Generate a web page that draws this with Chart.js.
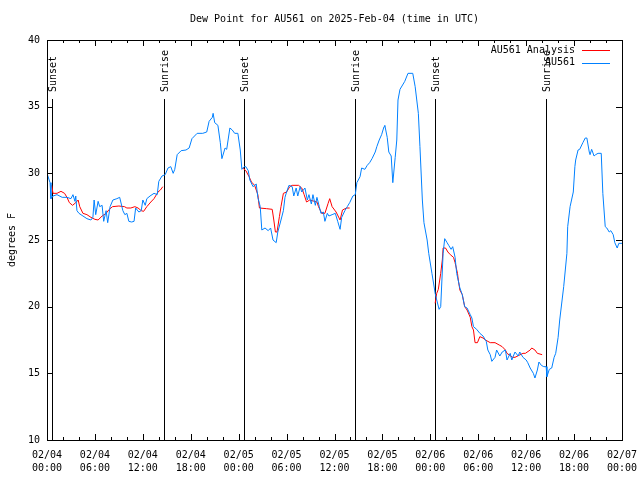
<!DOCTYPE html>
<html>
<head>
<meta charset="utf-8">
<script src="https://cdn.jsdelivr.net/npm/chart.js@4.4.1/dist/chart.umd.min.js"></script>
<style>
  html, body { margin: 0; padding: 0; background: #fff; }
  #dewChart { display: block; }
</style>
</head>
<body>
<canvas id="dewChart" width="640" height="480"></canvas>
<script>
// hours since 2025-02-04 00:00 UTC
const tickDates = ['02/04', '02/04', '02/04', '02/04', '02/05', '02/05', '02/05', '02/05', '02/06', '02/06', '02/06', '02/06', '02/07'];
const tickTimes = ['00:00', '06:00', '12:00', '18:00', '00:00', '06:00', '12:00', '18:00', '00:00', '06:00', '12:00', '18:00', '00:00'];

const sunHours = [0.63, 14.65, 24.67, 38.57, 48.58, 62.48];
const sunLabels = ['Sunset', 'Sunrise', 'Sunset', 'Sunrise', 'Sunset', 'Sunrise'];

const stationHours = [
    0.0, 0.38, 0.5, 0.75, 1.25, 1.9, 2.5, 3.0, 3.25, 3.5, 3.6, 3.75, 4.0, 4.5, 5.0, 5.5, 5.75, 5.9, 6.1, 6.4,
    6.6, 6.9, 7.1, 7.4, 7.6, 7.9, 8.25, 8.75, 9.1, 9.5, 9.75, 10.0, 10.25, 10.6, 10.9, 11.1, 11.5, 11.8, 12.0, 12.3,
    12.5, 12.9, 13.4, 13.8, 14.0, 14.4, 14.8, 15.15, 15.5, 15.8, 16.0, 16.3, 16.8, 17.4, 17.8, 18.15, 18.8, 19.5, 20.0, 20.3,
    20.7, 20.8, 21.0, 21.4, 21.7, 21.9, 22.3, 22.5, 22.9, 23.2, 23.5, 23.9, 24.2, 24.4, 24.7, 24.9, 25.2, 25.4, 25.8, 26.2,
    26.4, 26.7, 26.9, 27.3, 27.7, 28.0, 28.3, 28.7, 28.9, 29.3, 29.6, 29.8, 30.0, 30.3, 30.7, 30.9, 31.2, 31.4, 31.7, 31.9,
    32.3, 32.6, 32.8, 33.1, 33.3, 33.6, 33.8, 34.1, 34.3, 34.6, 34.8, 35.1, 35.3, 35.7, 36.1, 36.4, 36.7, 36.9, 37.3, 37.6,
    37.9, 38.3, 38.6, 38.8, 39.2, 39.4, 39.8, 40.1, 40.4, 40.7, 41.1, 41.3, 41.6, 41.9, 42.2, 42.3, 42.6, 42.8, 43.1, 43.3,
    43.6, 43.8, 43.95, 44.2, 44.6, 44.8, 45.2, 45.8, 46.1, 46.5, 46.7, 47.0, 47.2, 47.6, 47.8, 48.2, 48.5, 48.6, 48.8, 49.1,
    49.3, 49.6, 49.8, 50.1, 50.3, 50.6, 50.8, 51.1, 51.3, 51.7, 52.0, 52.3, 52.6, 53.0, 53.2, 53.4, 53.8, 54.2, 54.6, 55.0,
    55.2, 55.5, 55.7, 56.1, 56.3, 56.7, 57.0, 57.4, 57.6, 58.0, 58.2, 58.6, 59.0, 59.2, 59.6, 60.0, 60.2, 60.5, 60.9, 61.1,
    61.4, 61.6, 61.9, 62.2, 62.5, 62.6, 62.9, 63.2, 63.5, 63.7, 64.0, 64.2, 64.5, 64.7, 64.9, 65.1, 65.2, 65.5, 65.9, 66.1,
    66.2, 66.5, 66.7, 67.1, 67.4, 67.6, 67.9, 68.0, 68.2, 68.5, 68.7, 69.0, 69.4, 69.6, 69.9, 70.1, 70.4, 70.6, 70.9, 71.1,
    71.4, 71.6, 72.0
];
const stationDew = [
    30.0, 29.3, 28.1, 28.3, 28.4, 28.2, 28.2, 28.1, 28.4, 27.9, 28.3, 27.2, 27.0, 26.8, 26.6, 26.5, 26.7, 28.0, 26.9, 27.9,
    27.5, 27.6, 26.4, 27.2, 26.3, 27.5, 28.0, 28.1, 28.2, 27.2, 26.9, 27.0, 26.4, 26.35, 26.4, 27.4, 27.1, 27.2, 28.0, 27.6,
    28.1, 28.3, 28.5, 28.4, 29.4, 29.8, 29.9, 30.4, 30.5, 30.0, 30.3, 31.4, 31.7, 31.75, 31.9, 32.6, 33.0, 33.0, 33.1, 33.9,
    34.2, 34.5, 33.8, 33.6, 32.3, 31.1, 31.9, 31.8, 33.4, 33.25, 33.0, 33.0, 31.75, 30.3, 30.5, 30.5, 30.2, 29.5, 29.0, 29.2,
    28.2, 27.5, 25.75, 25.9, 25.7, 25.9, 25.0, 24.8, 25.6, 26.5, 27.2, 28.2, 28.6, 29.1, 29.0, 28.3, 28.9, 28.3, 29.0, 28.6,
    28.9, 28.0, 28.4, 27.7, 28.4, 27.6, 28.2, 27.5, 27.0, 27.1, 26.4, 27.0, 26.8, 26.9, 27.0, 26.4, 25.8, 26.7, 27.2, 27.5,
    27.8, 28.3, 28.4, 29.3, 29.75, 30.4, 30.3, 30.6, 30.8, 31.1, 31.6, 32.0, 32.5, 32.9, 33.5, 33.6, 32.7, 31.6, 31.3, 29.3,
    31.2, 32.5, 35.5, 36.3, 36.7, 36.9, 37.5, 37.5, 36.5, 34.5, 32.0, 28.0, 26.3, 25.0, 24.0, 22.5, 21.4, 21.0, 20.5, 19.8,
    20.0, 24.0, 25.1, 24.8, 24.6, 24.3, 24.5, 23.7, 22.5, 21.4, 20.9, 20.0, 19.9, 19.4, 19.15, 18.5, 18.3, 18.0, 17.8, 17.4,
    16.75, 16.4, 15.9, 16.2, 16.75, 16.3, 16.6, 16.75, 16.0, 16.5, 16.0, 16.6, 16.3, 16.6, 16.2, 16.0, 15.8, 15.4, 15.0, 14.65,
    15.25, 15.85, 15.6, 15.5, 15.5, 14.75, 15.3, 15.4, 16.2, 16.5, 17.7, 19.0, 20.5, 21.5, 22.75, 24.0, 26.0, 27.5, 28.6, 30.5,
    31.0, 31.75, 31.8, 32.3, 32.65, 32.65, 31.6, 31.4, 31.8, 31.3, 31.4, 31.5, 31.5, 28.5, 26.0, 25.9, 25.6, 25.7, 25.4, 24.8,
    24.4, 24.75, 24.75
];

const analysisHours = [
    0.6, 0.75, 1.25, 1.75, 2.2, 2.5, 2.8, 3.2, 3.6, 3.9, 4.1, 4.5, 5.0, 5.5, 6.0, 6.4, 6.9, 7.4, 7.8, 8.2,
    9.0, 9.7, 10.0, 10.5, 11.0, 11.4, 11.8, 12.1, 12.5, 13.0, 13.4, 13.9, 14.2, 14.5, 14.6,
    24.5, 24.9, 25.3, 25.6, 26.0, 26.4, 26.6, 27.5, 28.2, 28.4, 28.6, 28.8, 29.1, 29.3, 29.6, 30.0, 30.4, 30.7, 31.5,
    31.9, 32.2, 32.5, 32.9, 33.8, 34.0, 34.4, 34.8, 35.2, 35.4, 35.7, 36.2, 36.7, 37.0, 37.5, 37.9, 38.0,
    48.6, 48.8, 49.0, 49.3, 49.5, 49.6, 49.9, 50.2, 50.5, 50.9, 51.1, 51.4, 51.5, 51.7, 52.0, 52.3, 52.6, 53.0, 53.2,
    53.4, 53.6, 53.9, 54.2, 54.6, 54.9, 55.5, 56.1, 56.7, 57.0, 57.4, 57.6, 58.3, 58.6, 59.6, 59.9, 60.5, 60.7, 61.1,
    61.4, 62.0
];
const analysisDew = [
    29.1, 28.5, 28.5, 28.65, 28.5, 28.2, 27.8, 27.6, 27.8, 28.0, 27.5, 27.0, 26.9, 26.7, 26.55, 26.5, 26.8, 27.0, 27.3, 27.5,
    27.55, 27.5, 27.4, 27.4, 27.5, 27.4, 27.2, 27.15, 27.5, 27.85, 28.1, 28.6, 28.75, 29.0, null,
    30.4, 30.2, 29.75, 29.35, 29.1, 28.4, 27.4, 27.35, 27.3, 26.5, 25.6, 25.6, 26.75, 27.5, 28.5, 28.6, 29.0, 29.1, 29.1,
    28.9, 28.4, 27.85, 28.0, 27.85, 27.5, 27.0, 27.0, 27.75, 28.1, 27.5, 27.1, 26.5, 27.25, 27.4, 27.4, null,
    20.25, 21.0, 21.3, 22.5, 23.5, 24.4, 24.4, 24.1, 23.9, 23.7, 23.3, 22.5, 22.0, 21.25, 20.9, 20.0, 19.75, 19.2, 18.5,
    18.25, 17.3, 17.3, 17.75, 17.65, 17.5, 17.3, 17.3, 17.1, 17.0, 16.75, 16.5, 16.2, 16.2, 16.5, 16.5, 16.75, 16.9, 16.75,
    16.5, 16.4
];

const FONT = 'DejaVu Sans Mono';

function toPoints(hours, values) {
    return hours.map((h, i) => ({ x: h, y: values[i] }));
}

// frame, inward ticks, sunrise/sunset markers and the gnuplot style key
const gnuplotExtras = {
    id: 'gnuplotExtras',
    beforeDatasetsDraw(chart) {
        const ctx = chart.ctx;
        const xScale = chart.scales.x;
        const bottom = chart.chartArea.bottom;
        ctx.save();
        ctx.strokeStyle = '#000';
        ctx.lineWidth = 1;
        ctx.fillStyle = '#000';
        ctx.font = '10px ' + FONT;
        sunHours.forEach((h, i) => {
            const x = Math.round(xScale.getPixelForValue(h)) + 0.5;
            ctx.beginPath();
            ctx.moveTo(x, 99);
            ctx.lineTo(x, bottom);
            ctx.stroke();
            ctx.save();
            ctx.translate(x + 1, 92);
            ctx.rotate(-Math.PI / 2);
            ctx.textAlign = 'left';
            ctx.textBaseline = 'middle';
            ctx.fillText(sunLabels[i], 0, 0);
            ctx.restore();
        });
        ctx.restore();
    },
    afterDraw(chart) {
        const ctx = chart.ctx;
        const area = chart.chartArea;
        const xScale = chart.scales.x;
        const yScale = chart.scales.y;
        ctx.save();
        ctx.strokeStyle = '#000';
        ctx.lineWidth = 1;
        ctx.beginPath();
        for (let v = 10; v <= 40; v += 5) {
            const y = Math.round(yScale.getPixelForValue(v)) + 0.5;
            ctx.moveTo(area.left, y);
            ctx.lineTo(area.left + 6, y);
            ctx.moveTo(area.right, y);
            ctx.lineTo(area.right - 6, y);
        }
        for (let h = 0; h <= 72; h += 2) {
            const x = Math.round(xScale.getPixelForValue(h)) + 0.5;
            const len = (h % 6 === 0) ? 6 : 3;
            ctx.moveTo(x, area.bottom);
            ctx.lineTo(x, area.bottom - len);
            ctx.moveTo(x, area.top);
            ctx.lineTo(x, area.top + len);
        }
        ctx.stroke();
        ctx.strokeRect(Math.round(area.left) + 0.5, Math.round(area.top) + 0.5,
            Math.round(area.right - area.left), Math.round(area.bottom - area.top));

        // key: text right aligned, line sample after it
        ctx.font = '10px ' + FONT;
        ctx.textAlign = 'right';
        ctx.textBaseline = 'middle';
        const sets = chart.data.datasets.slice().reverse();
        sets.forEach((ds, i) => {
            const y = 50 + i * 12.5;
            ctx.fillStyle = '#000';
            ctx.fillText(ds.label, 575, y);
            ctx.strokeStyle = ds.borderColor;
            ctx.beginPath();
            ctx.moveTo(582, Math.round(y) + 0.5);
            ctx.lineTo(610, Math.round(y) + 0.5);
            ctx.stroke();
        });
        ctx.restore();
    }
};

const ctx = document.getElementById('dewChart').getContext('2d');
new Chart(ctx, {
    type: 'line',
    data: {
        datasets: [{
            label: 'AU561',
            data: toPoints(stationHours, stationDew),
            borderColor: 'rgb(0, 128, 255)',
            borderWidth: 1,
            pointRadius: 0,
            tension: 0,
            fill: false
        }, {
            label: 'AU561 Analysis',
            data: toPoints(analysisHours, analysisDew),
            borderColor: 'rgb(255, 0, 0)',
            borderWidth: 1,
            pointRadius: 0,
            tension: 0,
            spanGaps: false,
            fill: false
        }]
    },
    options: {
        responsive: false,
        animation: false,
        events: [],
        layout: {
            padding: { left: 0, right: 18, top: 0, bottom: 0 }
        },
        plugins: {
            legend: { display: false },
            tooltip: { enabled: false },
            title: {
                display: true,
                text: 'Dew Point for AU561 on 2025-Feb-04 (time in UTC)',
                color: '#000',
                fullSize: false,
                font: { family: FONT, size: 10, weight: 'normal', lineHeight: 1 },
                padding: { top: 14, bottom: 16 }
            }
        },
        scales: {
            x: {
                type: 'linear',
                min: 0,
                max: 72,
                afterFit: scale => {
                    scale.height = 40;
                    scale.paddingLeft = 0;
                    scale.paddingRight = 0;
                },
                grid: { display: false, drawTicks: false },
                border: { display: false },
                ticks: {
                    stepSize: 6,
                    autoSkip: false,
                    maxRotation: 0,
                    padding: 9,
                    color: '#000',
                    font: { family: FONT, size: 10, lineHeight: 1.3 },
                    callback: value => [tickDates[value / 6], tickTimes[value / 6]]
                }
            },
            y: {
                min: 10,
                max: 40,
                afterFit: scale => { scale.width = 47; },
                grid: { display: false, drawTicks: false },
                border: { display: false },
                title: {
                    display: true,
                    text: 'degrees F',
                    color: '#000',
                    font: { family: FONT, size: 10 },
                    padding: { top: 6, bottom: 0 }
                },
                ticks: {
                    stepSize: 5,
                    padding: 7,
                    color: '#000',
                    font: { family: FONT, size: 10 }
                }
            }
        }
    },
    plugins: [gnuplotExtras]
});
</script>
</body>
</html>
